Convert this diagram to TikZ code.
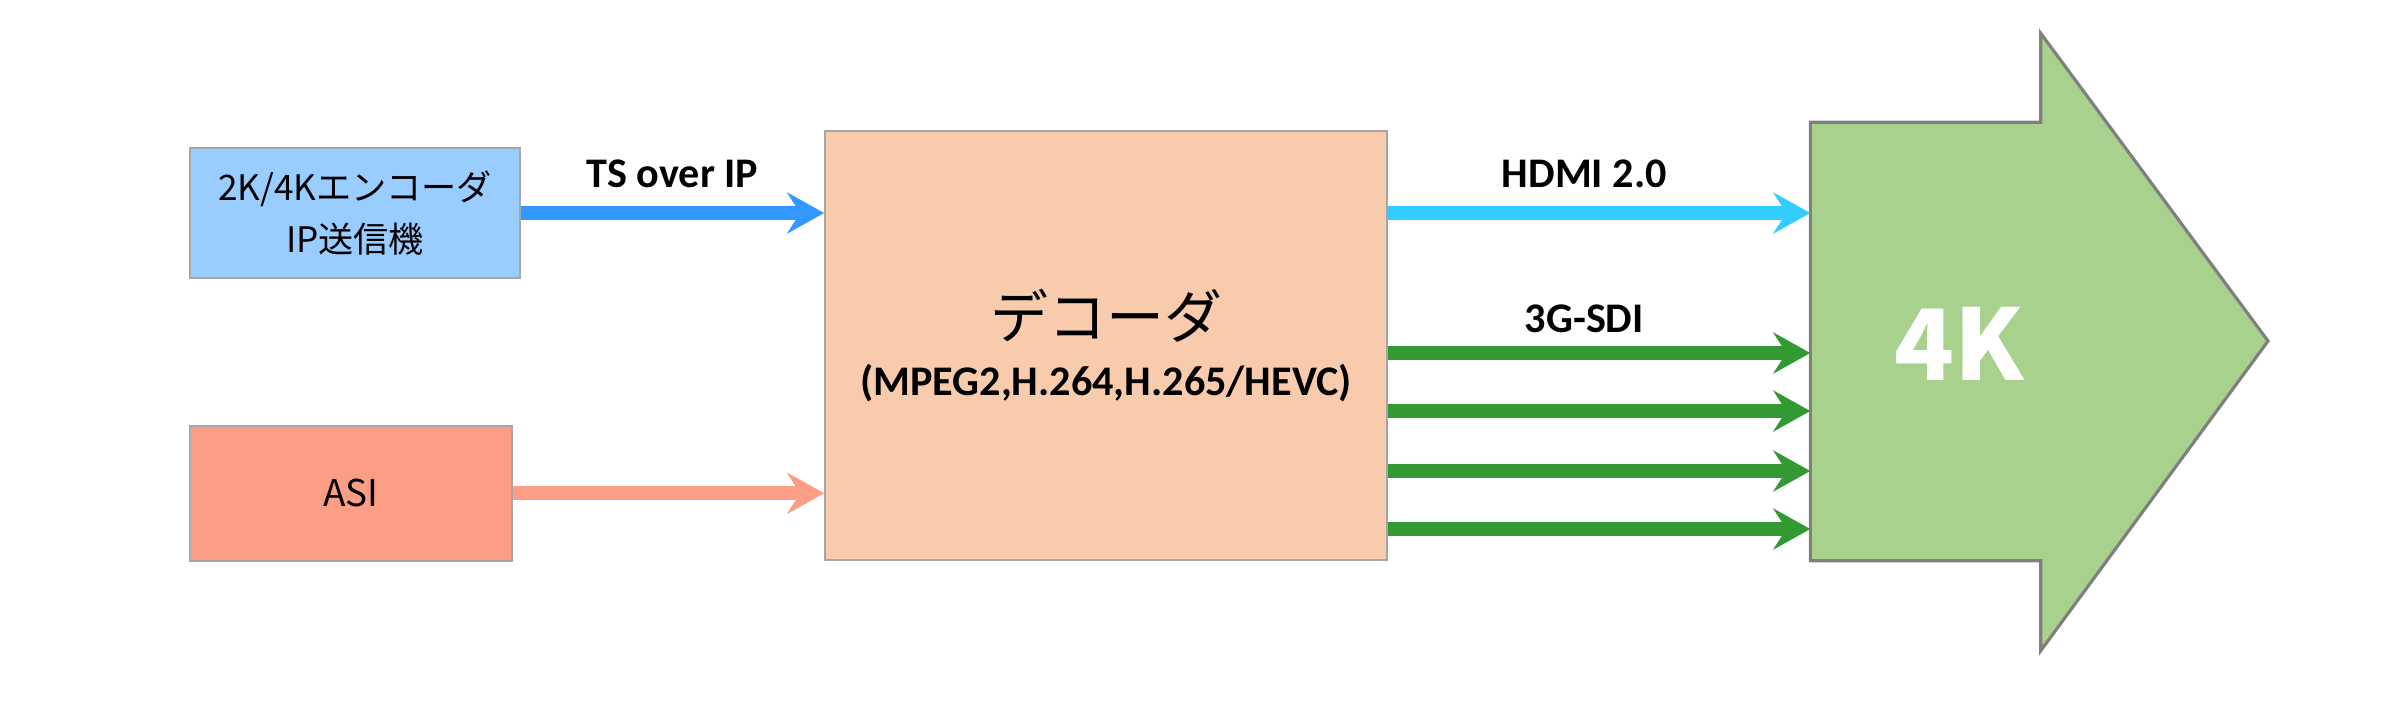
\documentclass[tikz,border=0pt]{standalone}
\usepackage{fontspec}
\setmainfont{Carlito}
\newfontfamily\jp{Noto Sans CJK JP}
\usetikzlibrary{positioning,arrows.meta,calc}
\definecolor{encblue}{RGB}{153,204,255}
\definecolor{asisalmon}{RGB}{252,157,133}
\definecolor{decpeach}{RGB}{248,203,173}
\definecolor{tsblue}{RGB}{51,153,255}
\definecolor{hdmicyan}{RGB}{51,204,255}
\definecolor{sdigreen}{RGB}{51,153,51}
\definecolor{uhdgreen}{RGB}{169,209,142}
\definecolor{edgegray}{RGB}{166,166,166}
\definecolor{arrowgray}{RGB}{127,127,127}

\begin{document}
\begin{tikzpicture}[
    srcblock/.style={
        rectangle, draw=edgegray, line width=0.5pt, fill=#1,
        inner sep=0pt, align=center,
        font=\jp\fontsize{10}{14.8}\selectfont
    },
    decblock/.style={
        rectangle, draw=edgegray, line width=0.5pt, fill=decpeach,
        inner sep=0pt, align=center,
        minimum width=5.62cm, minimum height=4.29cm,
        font=\fontsize{12}{16.2}\selectfont
    },
    uhdbody/.style={rectangle, inner sep=0pt, minimum width=2.29cm, minimum height=4.37cm},
    sigflow/.style={draw=#1, line width=1.4mm, -{Stealth[length=3.7mm, width=4.1mm, inset=1.3mm]}},
    flowlabel/.style={font=\bfseries\fontsize{12}{14}\selectfont, anchor=base, inner sep=0pt}
]
    \useasboundingbox (0,0) rectangle (24,7);
    \node[srcblock=encblue, minimum width=3.3cm, minimum height=1.3cm] (enc) at (3.55,4.87) {2K/4Kエンコーダ\\IP送信機};
    \node[srcblock=asisalmon, minimum width=3.22cm, minimum height=1.35cm, below=1.46cm of enc.south west, anchor=north west, font=\jp\fontsize{10.5}{14}\selectfont] (asi) {ASI};
    \node[decblock] (dec) at (11.06,3.545) {{\jp\fontsize{16.5}{16.2}\selectfont デコーダ}\\{\bfseries (MPEG2,H.264,H.265/HEVC)}};
    \node[uhdbody] (tv) at (19.255,3.585) {};

    \draw[fill=uhdgreen, draw=arrowgray, line width=0.9pt] (tv.south west) -- (tv.north west) -- (tv.north east) -- ++(0,0.89)
        -- (22.68,3.59) -- ($(tv.south east)+(0,-0.90)$) -- (tv.south east) -- cycle;
    \node[text=white, font=\jp\bfseries\fontsize{28}{30}\selectfont, inner sep=0pt] (uhd) at (19.59,3.56) {4K};

    \draw[sigflow=tsblue] (enc) -- node[flowlabel, yshift=2.55mm] {TS over IP} (enc -| dec.west);
    \draw[sigflow=asisalmon] (asi) -- (asi -| dec.west);
    \draw[sigflow=hdmicyan] (enc -| dec.east) -- node[flowlabel, pos=0.465, yshift=2.6mm] {HDMI 2.0} (enc -| tv.west);
    \draw[sigflow=sdigreen] (dec.east |- 0,3.47) -- node[flowlabel, pos=0.465, yshift=2.07mm] {3G-SDI} (tv.west |- 0,3.47);
    \foreach \y in {2.89,2.29,1.71}
        \draw[sigflow=sdigreen] (dec.east |- 0,\y) -- (tv.west |- 0,\y);
\end{tikzpicture}
\end{document}
